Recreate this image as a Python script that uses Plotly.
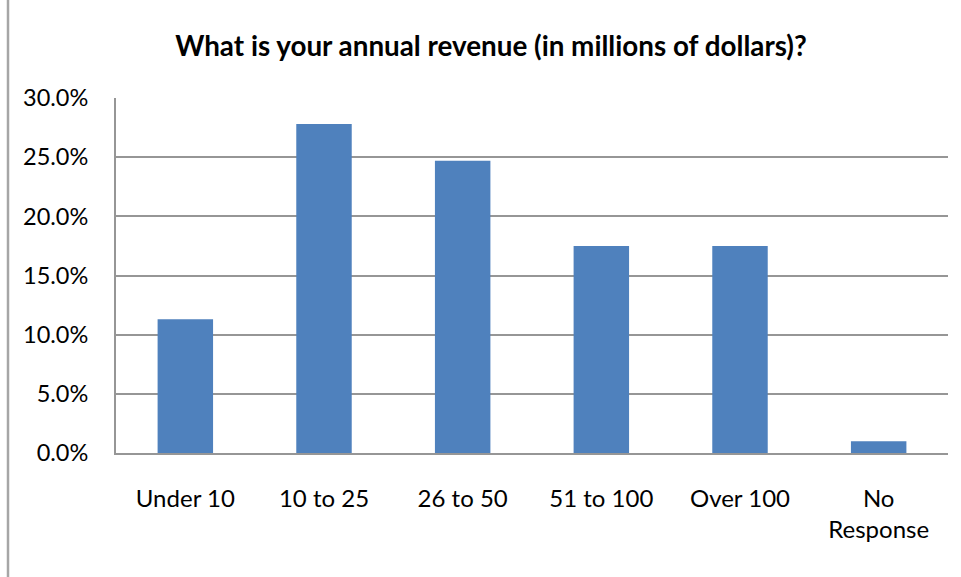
import plotly.graph_objects as go

# Survey responses: annual revenue bands
categories = ["Under 10", "10 to 25", "26 to 50", "51 to 100", "Over 100", "No<br>Response"]
shares = [11.3, 27.8, 24.7, 17.5, 17.5, 1.0]
tick_values = [0, 5, 10, 15, 20, 25, 30]
tick_labels = ["0.0%", "5.0%", "10.0%", "15.0%", "20.0%", "25.0%", "30.0%"]

W, H = 961, 577
L, R, T, B = 116, 13, 98, 124
pw, ph = W - L - R, H - T - B

FONT = "Lato, 'Open Sans', sans-serif"
GRID = "#969696"

fig = go.Figure(
    go.Bar(
        x=categories,
        y=shares,
        marker=dict(color="#4f81bd", line=dict(width=0)),
        hovertemplate="%{x}: %{y:.1f}%<extra></extra>",
    )
)

# outer chart frame (left and top edges visible)
fx0 = (8 - L) / pw
fy0 = (H - T - 5) / ph
fig.add_shape(
    type="path",
    xref="paper", yref="paper",
    path=f"M {fx0} {-(B + 10) / ph} L {fx0} {fy0} L {(W - L + 10) / pw} {fy0}",
    line=dict(color="#a6a6a6", width=2.5),
)

fig.update_layout(
    width=W, height=H,
    margin=dict(l=L, r=R, t=T, b=B),
    paper_bgcolor="white",
    plot_bgcolor="white",
    bargap=0.6,
    showlegend=False,
    font=dict(family=FONT, color="#000000"),
    title=dict(
        text="<b>What is your annual revenue (in millions of dollars)?</b>",
        x=491 / W, xanchor="center",
        y=1 - 46 / H, yanchor="middle",
        font=dict(family=FONT, size=27.8, color="#000000"),
    ),
    xaxis=dict(
        showgrid=False,
        showline=True, linecolor=GRID, linewidth=2,
        ticks="", tickfont=dict(size=24),
        ticklabelstandoff=23,
        fixedrange=True,
    ),
    yaxis=dict(
        range=[0, 30],
        tickvals=tick_values, ticktext=tick_labels,
        showgrid=True, gridcolor=GRID, gridwidth=2,
        showline=True, linecolor=GRID, linewidth=2,
        zeroline=False,
        ticks="", tickfont=dict(size=23.5),
        ticklabelstandoff=21,
        fixedrange=True,
    ),
)

fig.write_html("out.html")
